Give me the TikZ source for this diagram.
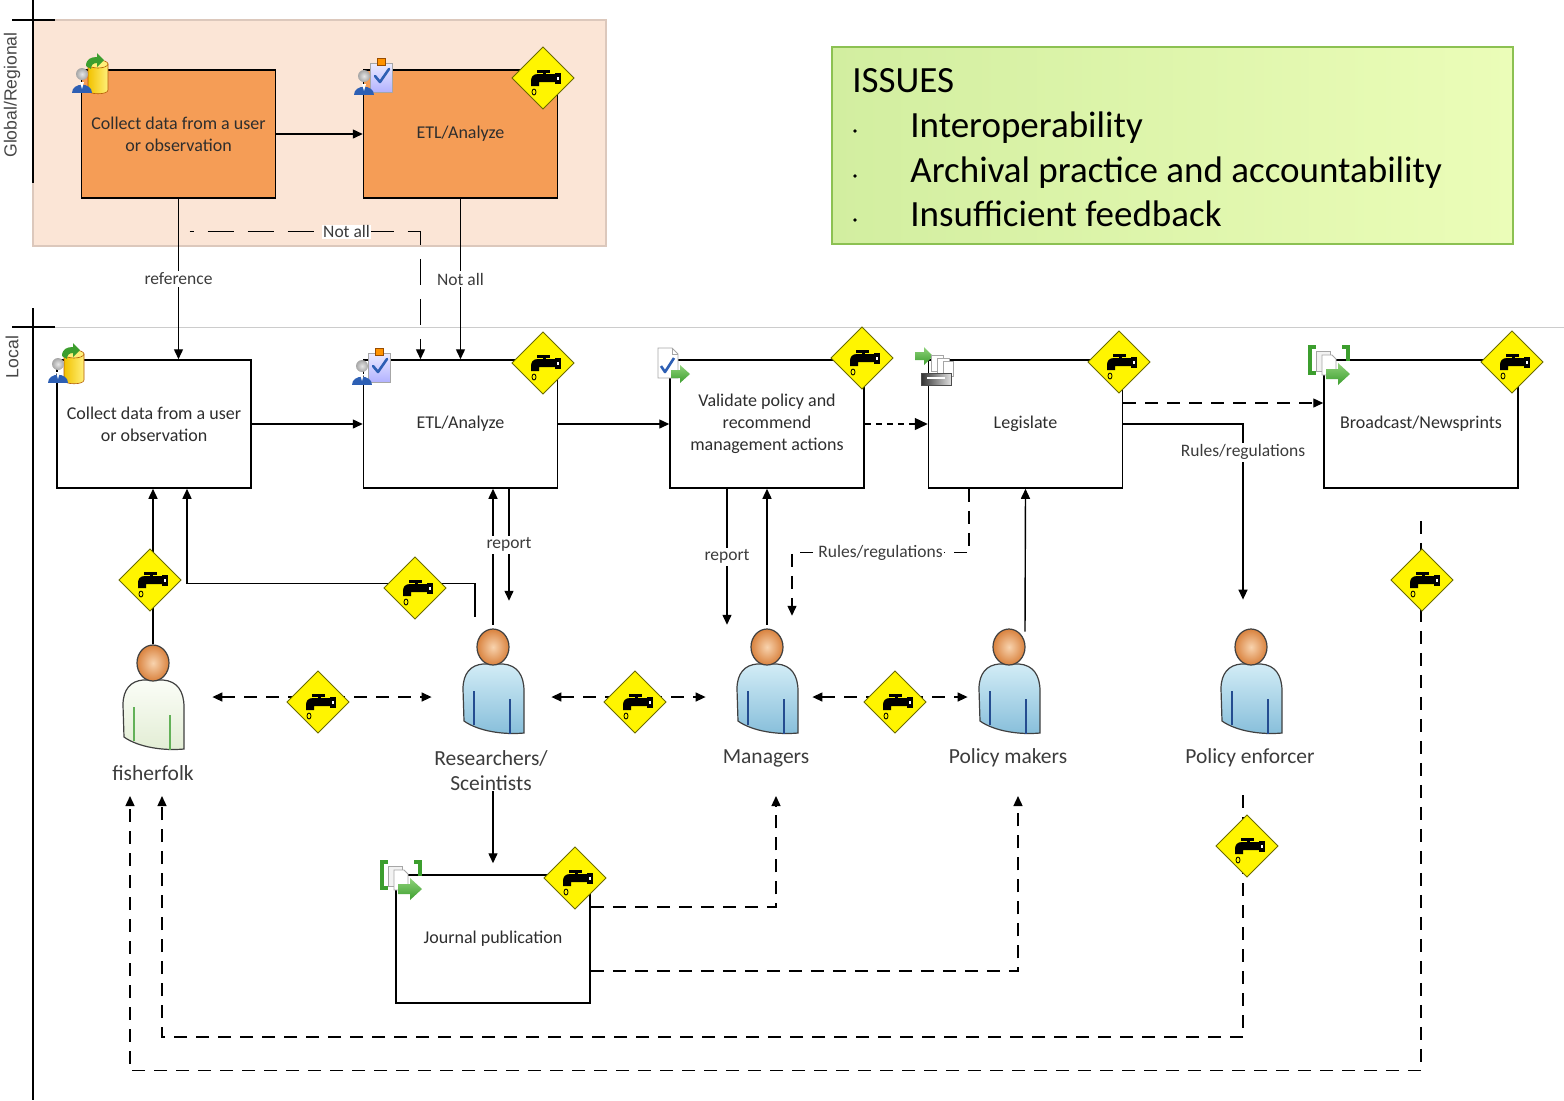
\documentclass[tikz,border=0pt]{standalone}
\usepackage{fontspec}
\setmainfont{Carlito}
\newfontfamily\lanefont{Liberation Sans}
\usetikzlibrary{arrows.meta,calc}

\definecolor{lanepink}{HTML}{FBE5D6}
\definecolor{laneedge}{HTML}{DCC8BC}
\definecolor{boxorange}{HTML}{F59D56}
\definecolor{txtdark}{HTML}{2E2E2E}
\definecolor{lbltxt}{HTML}{3C3C3C}
\definecolor{signyellow}{HTML}{FFF500}
\definecolor{signedge}{HTML}{6B6B00}
\definecolor{issuefillA}{HTML}{D2EEA0}
\definecolor{issuefillB}{HTML}{EBFDB8}
\definecolor{issueedge}{HTML}{8CC152}
\definecolor{iconblue}{HTML}{2D5FB4}
\definecolor{icongreen}{HTML}{3C9E2E}
\definecolor{iconlight}{HTML}{8FD27A}
\definecolor{dbyellowA}{HTML}{F2C200}
\definecolor{dbyellowB}{HTML}{FFF07A}
\definecolor{headlight}{HTML}{F8D3AE}
\definecolor{headdark}{HTML}{D9823E}
\definecolor{bodylight}{HTML}{D2ECF6}
\definecolor{bodydark}{HTML}{86BEDA}
\definecolor{palelight}{HTML}{FBFDF7}
\definecolor{paledark}{HTML}{E2EDD4}

\tikzset{
  proc/.style={draw=black, line width=0.75pt, fill=white, minimum width=97pt,
    minimum height=64pt, inner sep=0pt, align=center, text=txtdark,
    font=\fontsize{9}{11}\selectfont},
  procg/.style={proc, fill=boxorange},
  arr/.style={line width=0.7pt, -{Triangle[length=5pt,width=4.5pt]}},
  darr/.style={arr, dash pattern=on 6.5pt off 4.5pt},
  longdash/.style={arr, dash pattern=on 13pt off 7pt, dash phase=11pt},
  ddarr/.style={darr, {Triangle[length=5pt,width=4.5pt]}-{Triangle[length=5pt,width=4.5pt]}},
  lbl/.style={fill=white, inner sep=1pt, text=lbltxt, font=\fontsize{8.75}{10}\selectfont},
  plbl/.style={text=lbltxt, align=center, inner sep=0pt, font=\fontsize{10.75}{12.5}\selectfont},
  who/.style={minimum width=31pt, minimum height=53pt, inner sep=0pt},
  isstxt/.style={inner sep=0pt, text=black, font=\fontsize{18.5}{22}\selectfont},
  lanetxt/.style={rotate=90, text=black!72, font=\lanefont\fontsize{8.8}{10}\selectfont},
  persbody/.style={top color=bodylight, bottom color=bodydark},
  persline/.style={draw=iconblue!80!black},
  % warning sign with a tap
  pics/tap/.style={code={
    \filldraw[fill=signyellow, draw=signedge, line width=0.5pt]
      (0,-31) -- (31,0) -- (0,31) -- (-31,0) -- cycle;
    \fill[black] (-6,-8) rectangle (7,-5.5);
    \fill[black] (-0.5,-6) rectangle (2.5,-3);
    \fill[black] (16,-4) -- (-5,-4) .. controls (-10,-4) and (-12,-1) .. (-12,3)
      -- (-12,8) -- (-4,8) -- (-4,4) -- (16,4) -- cycle;
    \fill[black] (12,-5.5) rectangle (18,5.5);
    \fill[white] (14,-1.5) rectangle (16,1.5);
    \draw[black, line width=0.4pt] (-9,14) ellipse (2 and 3);
  }},
  % stylised person: body and head
  pics/person/.style={code={
    \shadedraw[persbody, draw=black!75, line width=0.6pt]
      (-29,74) -- (-30,42) .. controls (-30,26) and (-22,18) .. (-10,17)
      -- (10,17) .. controls (24,18) and (31,28) .. (31,44) -- (31,86)
      .. controls (10,88) and (-15,84) .. (-29,74) -- cycle;
    \draw[persline, line width=0.6pt] (-19,44) -- (-19,78) (17,52) -- (17,87);
    \shadedraw[inner color=headlight, outer color=headdark, draw=black!75, line width=0.6pt]
      (0,0) ellipse (16 and 18);
  }},
  % small user figure used inside icons
  pics/user/.style={code={
    \shade[inner color=gray!20, outer color=gray!70] (0,0) circle (6);
    \fill[iconblue] (-10,19) .. controls (-10,8) and (10,8) .. (10,19) -- cycle;
    \fill[white] (-2,8) -- (2,8) -- (0,15) -- cycle;
  }},
  pics/dbicon/.style={code={
    \shadedraw[left color=dbyellowA, right color=dbyellowB, draw=orange!70!black, line width=0.3pt]
      (-6,-12) -- (-6,14) .. controls (-6,19) and (14,19) .. (14,14) -- (14,-12) -- cycle;
    \filldraw[fill=dbyellowB, draw=orange!70!black, line width=0.3pt] (4,-12) ellipse (10 and 4);
    \fill[icongreen] (-8,-10) .. controls (-8,-17) and (-3,-19) .. (3,-19) -- (3,-23)
      -- (10,-16) -- (3,-9) -- (3,-13) .. controls (-1,-13) and (-3,-11) .. (-3,-7) -- cycle;
    \pic at (-12,-2) {user};
  }},
  pics/clipicon/.style={code={
    \shadedraw[top color=blue!8!white, bottom color=blue!30!white, draw=gray!70, line width=0.3pt]
      (-6,-13) rectangle (16,16);
    \filldraw[fill=orange!85!yellow, draw=orange!60!black, line width=0.3pt] (1,-18) rectangle (9,-11);
    \draw[iconblue, line width=1.3pt, line cap=round, line join=round] (-1,0) -- (4,6) -- (13,-7);
    \pic at (-12,0) {user};
  }},
  pics/checkdoc/.style={code={
    \filldraw[fill=white, draw=gray!70, line width=0.4pt]
      (-13,-18) -- (1,-18) -- (7,-12) -- (7,12) -- (-13,12) -- cycle;
    \draw[gray!70, line width=0.4pt] (1,-18) -- (1,-12) -- (7,-12);
    \draw[iconblue, line width=1.3pt, line join=round] (-10,0) -- (-6,6) -- (3,-8);
    \shade[top color=iconlight, bottom color=icongreen]
      (0,4) -- (9,4) -- (9,-1) -- (19,8) -- (9,17) -- (9,12) -- (0,12) -- cycle;
  }},
  pics/printicon/.style={code={
    \shade[top color=iconlight, bottom color=icongreen]
      (-22,-15) -- (-13,-15) -- (-13,-20) -- (-4,-11) -- (-13,-2) -- (-13,-7) -- (-22,-7) -- cycle;
    \filldraw[fill=white, draw=gray!70, line width=0.4pt] (-6,-12) rectangle (6,4);
    \filldraw[fill=white, draw=gray!70, line width=0.4pt] (0,-9) rectangle (12,7);
    \filldraw[fill=white, draw=gray!70, line width=0.4pt] (6,-6) rectangle (16,9);
    \shadedraw[left color=black!80, right color=gray!25, draw=black!70, line width=0.3pt]
      (-16,6) rectangle (14,18);
    \fill[white] (-10,10) rectangle (8,12);
  }},
  pics/sendicon/.style={code={
    \draw[icongreen, line width=1.6pt] (-14,-18) -- (-20,-18) -- (-20,8) -- (-14,8);
    \draw[icongreen, line width=1.6pt] (12,-18) -- (18,-18) -- (18,-4);
    \filldraw[fill=gray!10, draw=gray!70, line width=0.4pt] (-14,-14) rectangle (0,6);
    \filldraw[fill=white, draw=gray!70, line width=0.4pt] (-8,-10) -- (2,-10) -- (6,-6) -- (6,10) -- (-8,10) -- cycle;
    \shade[top color=iconlight, bottom color=icongreen]
      (-4,4) -- (8,4) -- (8,-2) -- (20,9) -- (8,20) -- (8,14) -- (-4,14) -- cycle;
  }},
}

\begin{document}
\begin{tikzpicture}[x=0.5pt,y=-0.5pt]
\useasboundingbox (0,0) rectangle (1564,1100);

% ---- lanes ----
\filldraw[fill=lanepink, draw=laneedge, line width=0.6pt] (33,20) rectangle (606,246);
\draw[gray!40, line width=0.5pt] (33,327) -- (1564,327);
\draw[black, line width=0.6pt] (33,0) -- (33,183) (12,20) -- (55,20);
\draw[black, line width=0.6pt] (33,308) -- (33,1100) (12,327) -- (55,327);
\node[lanetxt] (laneG) at (12,95) {Global/Regional};
\node[lanetxt] (laneL) at (12,357) {Local};

% ---- issues panel ----
\node[draw=issueedge, line width=0.8pt, left color=issuefillA, right color=issuefillB,
  minimum width=340.5pt, minimum height=98.5pt, inner sep=0pt] (iss) at (1172.5,145.5) {};
\node[isstxt, anchor=base west] (issH) at (852,92) {ISSUES};
\node[isstxt, anchor=base west] (iss1) at (910,137) {Interoperability};
\node[isstxt, anchor=base west] (iss2) at (910,182) {Archival practice and accountability};
\node[isstxt, anchor=base west] (iss3) at (910,226) {Insufficient feedback};
\foreach \yy in {131,176,220} \fill[black] (855,\yy) circle (1.8);

% ---- process boxes ----
\node[procg] (A1) at (178.5,134) {Collect data from a user\\or observation};
\node[procg] (A2) at (460.5,134) {ETL/Analyze};
\node[proc] (B1) at (154,424) {Collect data from a user\\or observation};
\node[proc] (B2) at (460.5,424) {ETL/Analyze};
\node[proc] (B3) at (767,424) {Validate policy and\\recommend\\management actions};
\node[proc] (B4) at (1025.5,424) {Legislate};
\node[proc] (B5) at (1421,424) {Broadcast/Newsprints};
\node[proc] (J) at (493,939) {Journal publication};

% ---- actors ----
\node[who] (fish) at (153,697) {};
\node[who] (res) at (493,682) {};
\node[who] (man) at (767,682) {};
\node[who] (pm) at (1009,682) {};
\node[who] (enf) at (1251,682) {};
\pic[persbody/.style={top color=palelight, bottom color=paledark},
     persline/.style={draw=icongreen!80}] at (153,663) {person};
\pic at (493,647) {person};
\pic at (767,647) {person};
\pic at (1009,647) {person};
\pic at (1251,647) {person};
\node[plbl] (fishL) at (153,773) {fisherfolk};
\node[plbl] (resL) at (491,771) {Researchers/\\Sceintists};
\node[plbl] (manL) at (766,758) {Managers};
\node[plbl] (pmL) at (1008,758) {Policy makers};
\node[plbl] (enfL) at (1250,758) {Policy enforcer};

\coordinate (manIn) at (776,796);
\coordinate (pmIn) at (1018,796);
\coordinate (fishInA) at (162,796);
\coordinate (fishInB) at (130,796);
\coordinate (enfOut) at (1243,795);

% ---- global lane flows ----
\draw[arr] (A1) -- (A2);
\draw[arr] (A1.south) -- node[lbl]{reference} (A1.south |- B1.north);
\draw[longdash] ($(A1.south)+(11,33)$) -| node[lbl, pos=0.34, inner sep=0.5pt]{Not all} ($(B2.north)+(-40,0)$);
\draw[arr] (A2.south) -- node[lbl]{Not all} (B2.north);

% ---- local lane flows ----
\draw[arr] (B1) -- (B2);
\draw[arr] (B2) -- (B3);
\draw[line width=0.7pt, dash pattern=on 3pt off 2.5pt, -{Triangle[length=6.5pt,width=6pt]}] (B3) -- (B4);
\draw[darr] ($(B4.east)+(0,-21)$) -- ($(B5.west)+(0,-21)$);
\draw[arr] (B4.east) -| node[lbl, pos=0.58]{Rules/regulations} ($(enf.north)+(-8,-29)$);

\draw[arr] (fish.north) -- (fish.north |- B1.south);
\draw[arr] ($(res.north)+(-18,-12)$) |- ($(B1.south)+(33,95)$) -- ($(B1.south)+(33,0)$);
\draw[arr] ($(res.north)+(0,-4)$) -- ($(B2.south)+(32.5,0)$);
\draw[arr] ($(B2.south)+(48.5,0)$) -- node[lbl]{report} ++(0,112);
\draw[arr] ($(B3.south)+(-40,0)$) -- node[lbl]{report} ++(0,136);
\draw[arr] ($(man.north)+(0,-4)$) -- (B3.south);
\draw[darr] ($(B4.south)+(-56.5,0)$) -- ++(0,64) -- node[lbl, inner sep=0.5pt]{Rules/regulations} ++(-177,0) -- ++(0,63);
\draw[arr] ($(pm.north)+(16,3)$) -- (B4.south);

\draw[ddarr] ($(fish.east)+(28,0)$) -- ($(res.west)+(-30,15)$);
\draw[ddarr] ($(res.east)+(27,15)$) -- ($(man.west)+(-30,15)$);
\draw[ddarr] ($(man.east)+(14,15)$) -- ($(pm.west)+(-10,15)$);

\draw[arr] (J.north |- resL.south) -- ($(J.north)+(0,-11)$);
\draw[darr] ($(J.east)+(0,-32)$) -| (manIn);
\draw[darr] ($(J.east)+(0,32)$) -| (pmIn);
\draw[darr] (enfOut) -- ++(0,242) -| (fishInA);
\draw[darr] ($(B5.south)+(0,32)$) -- ++(0,550) -| (fishInB);

% ---- icons ----
\pic at (94,76) {dbicon};
\pic at (70,366) {dbicon};
\pic at (376,76) {clipicon};
\pic at (374,366) {clipicon};
\pic at (671,366) {checkdoc};
\pic at (937,367) {printicon};
\pic at (1330,365) {sendicon};
\pic at (402,880) {sendicon};

% ---- warning signs ----
\foreach \p in {(543,78),(543,363),(862,358),(1119,362),(1512,362),(150,580),(415,588),
  (318,702),(635,702),(895,702),(1422,580),(1247,846),(575,878)}
  \pic at \p {tap};
\end{tikzpicture}
\end{document}
